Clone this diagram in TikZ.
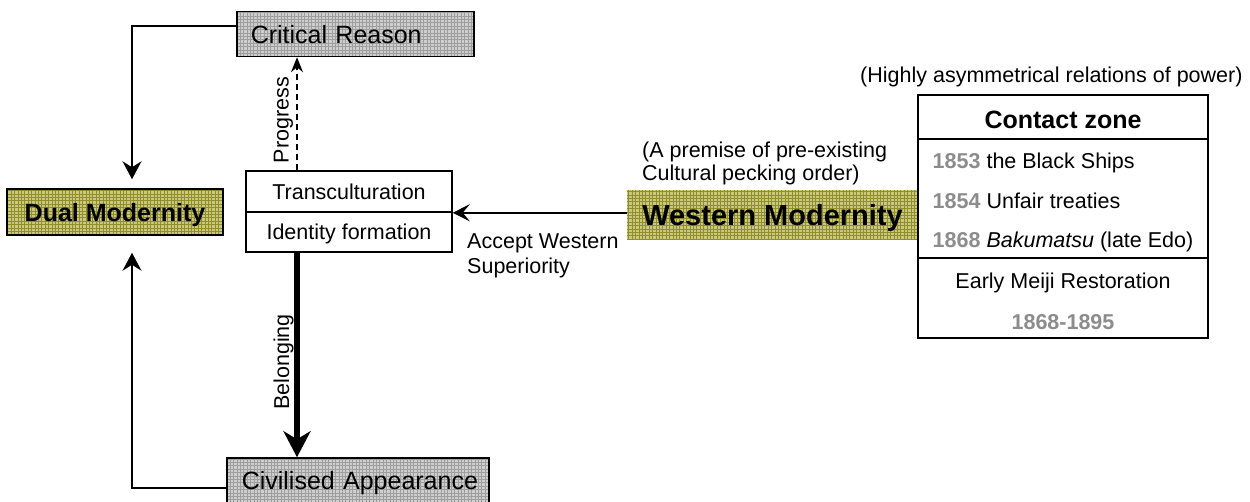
\documentclass[tikz,border=0pt]{standalone}
\usepackage{fontspec}
\setmainfont{Liberation Sans}
\usetikzlibrary{arrows.meta}

\definecolor{grayfill}{HTML}{CECECE}
\definecolor{grayline}{HTML}{9E9E9E}
\definecolor{olivefill}{HTML}{CAC87C}
\definecolor{oliveline}{HTML}{8F8D2C}
\definecolor{yeargray}{HTML}{8C8C8C}

\tikzset{
  txt/.style={font=\fontsize{21.5}{25}\selectfont, inner sep=0pt},
  boxline/.style={draw=black, line width=1.5pt},
  hatched/.style 2 args={fill=#1,
    path picture={\draw[#2, line width=0.7pt]
      (path picture bounding box.south west) grid[step=3.4pt]
      (path picture bounding box.north east);}},
  graybox/.style={rectangle, boxline, hatched={grayfill}{grayline},
    font=\fontsize{25}{29}\selectfont, minimum height=45pt, inner sep=0pt, text depth=0pt},
  olivebox/.style={rectangle, hatched={olivefill}{oliveline},
    font=\fontsize{25}{29}\selectfont\bfseries, inner sep=0pt, text depth=0pt},
  cell/.style={rectangle, boxline, fill=white, inner sep=0pt, text depth=0pt,
    font=\fontsize{21.5}{25}\selectfont},
  link/.style={line width=1.5pt},
  filltip/.style={link, -{Stealth[length=18pt, width=19pt, inset=6pt]}},
  midtip/.style={link, -{Stealth[length=17pt, width=17pt, inset=7pt]}},
  thintip/.style={link, -{Stealth[length=15pt, width=12pt, inset=5pt]}},
  bigtip/.style={line width=6pt, -{Stealth[length=26pt, width=27pt, inset=8pt]}},
}

\begin{document}
\begin{tikzpicture}[x=1pt, y=-1pt]
\useasboundingbox (0,0) rectangle (1250,501);

% guide coordinates for the vertical connectors
\coordinate (ax) at (297,0);
\coordinate (lx) at (132,0);

% left column
\node[olivebox, draw=black, line width=1.5pt, minimum width=216pt, minimum height=46pt]
  (dm) at (115,212) {Dual Modernity};

\node[graybox, anchor=west, text width=237pt, align=left]
  (cr) at (236,34) {\hspace*{14pt}Critical Reason};
\node[graybox, anchor=west, text width=262pt, align=left]
  (ca) at (226,480.5) {\hspace*{15pt}Civilised Appearance};

% central box
\node[cell, minimum width=206pt, minimum height=41pt] (trans) at (349,191.5) {Transculturation};
\node[cell, minimum width=206pt, minimum height=40pt] (ident) at (349,232) {Identity formation};

% western modernity
\node[olivebox, minimum width=291pt, minimum height=50pt, font=\fontsize{29}{33}\selectfont\bfseries]
  (wm) at (772.5,215) {Western Modernity};

% contact zone table (struts lower the text inside each cell)
\node[cell, minimum width=290pt, minimum height=44pt, font=\fontsize{25}{29}\selectfont\bfseries]
  (czh) at (1063,117) {\rule{0pt}{22pt}Contact zone};
\node[cell, minimum width=290pt, minimum height=119pt, align=left,
      font=\fontsize{21.5}{39.5}\selectfont]
  (czm) at (1063,198.5) {\rule{0pt}{19.5pt}{\color{yeargray}\bfseries 1853} the Black Ships\\
                         {\color{yeargray}\bfseries 1854} Unfair treaties\\
                         {\color{yeargray}\bfseries 1868} \textit{Bakumatsu} (late Edo)};
\node[cell, minimum width=290pt, minimum height=80pt, align=center,
      font=\fontsize{21.5}{41}\selectfont]
  (czb) at (1063,298) {\rule{0pt}{22pt}Early Meiji Restoration\\{\color{yeargray}\bfseries 1868-1895}};

% free labels
\node[txt, anchor=west] (power) at (860,77) {(Highly asymmetrical relations of power)};
\node[txt, anchor=west, align=left, font=\fontsize{21.5}{23}\selectfont]
  (premise) at (642,163.5) {(A premise of pre-existing\\Cultural pecking order)};
\node[txt, anchor=west, align=left] (accept) at (467,255.5) {Accept Western\\Superiority};
\node[txt, rotate=90] (progress) at (283.5,120) {Progress};
\node[txt, rotate=90] (belonging) at (283.5,362) {Belonging};

% connectors
\draw[thintip, dash pattern=on 6pt off 4pt] (trans.north -| ax) -- (cr.south -| ax);
\draw[bigtip] (ident.south -| ax) -- (ca.north -| ax);
\draw[midtip] (trans.south east -| wm.west) -- (trans.south east);
\draw[filltip, shorten >=9pt] ([yshift=8pt]cr.west) -| (dm.north -| lx);
\draw[filltip, shorten >=17pt] ([yshift=-7.5pt]ca.west) -| (dm.south -| lx);
\end{tikzpicture}
\end{document}
